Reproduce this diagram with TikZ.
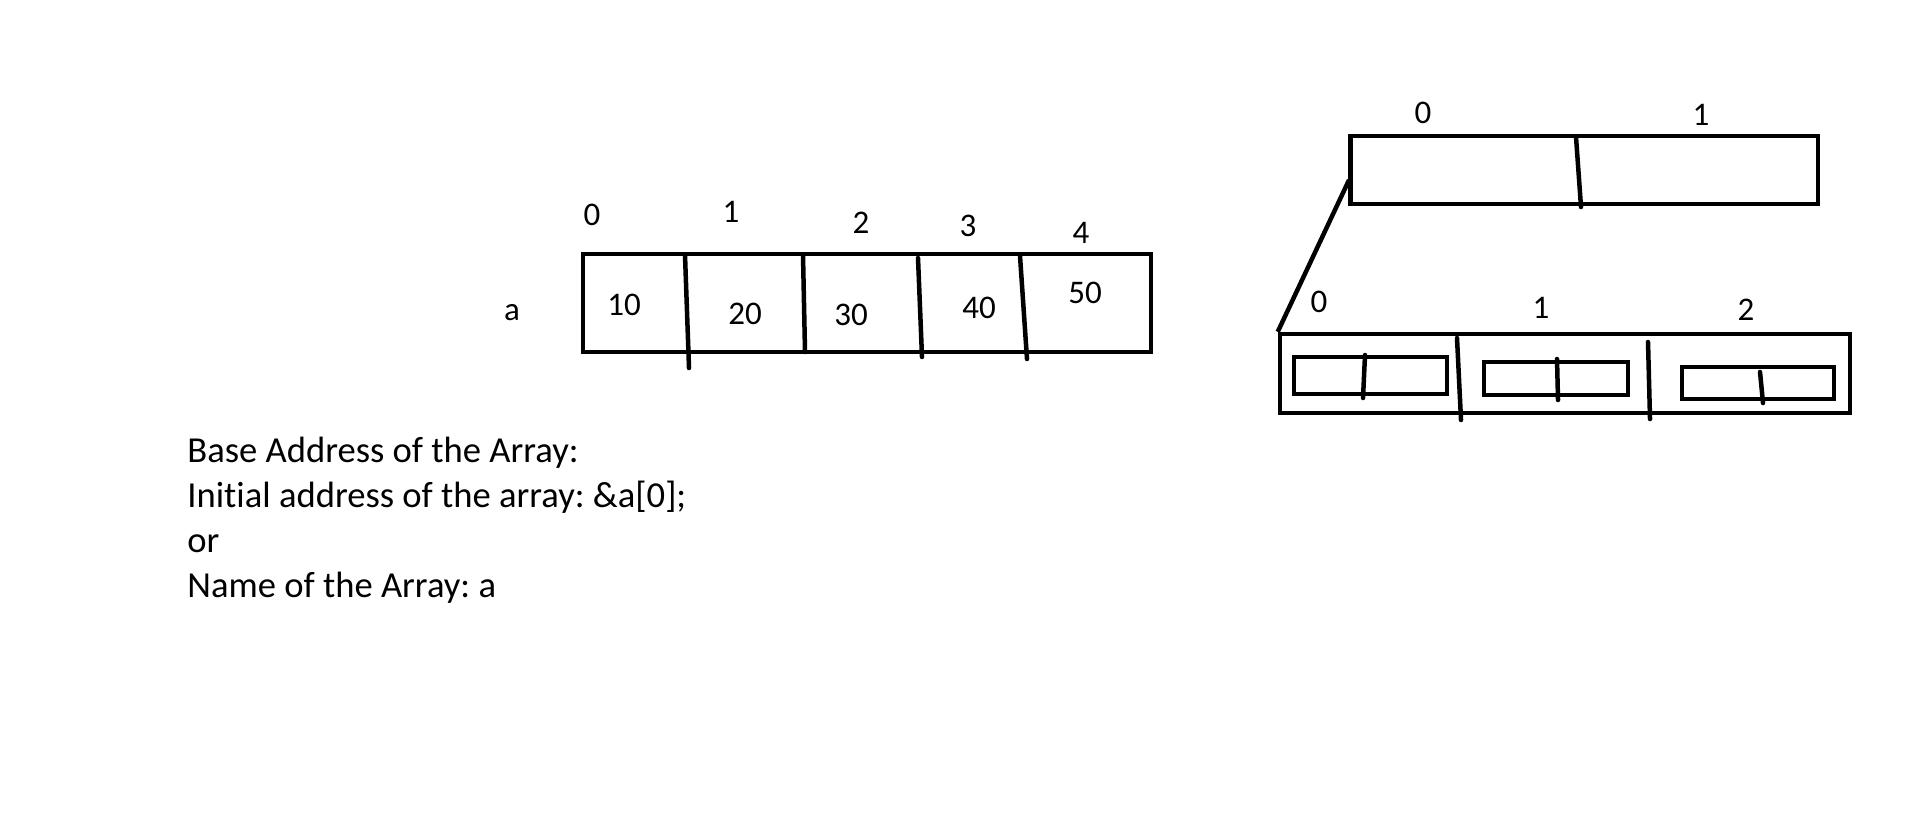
\documentclass[tikz,border=0pt]{standalone}
\usepackage{fontspec}
\setmainfont[Ligatures=NoCommon]{Carlito}
\usepackage{tikz}
\usetikzlibrary{positioning}
\frenchspacing

\begin{document}
\begin{tikzpicture}[x=0.5pt,y=-0.5pt,font=\fontsize{16.5}{23}\selectfont,
  box/.style={draw,line width=2.25pt,inner sep=0pt,rectangle},
  bar/.style={line width=2.25pt,line cap=round},
  lbl/.style={inner sep=0pt},
  txt/.style={inner sep=0pt,anchor=base west,font=\fontsize{18.3}{22.5}\selectfont}]
\useasboundingbox[fill=white] (0,0) rectangle (1914,837);
% one-dimensional array a
\node[box,minimum width=284pt,minimum height=49pt] (arr) at (867,303) {};
\node[lbl] (name) at (512,313) {a};
\node[lbl] (i0) at (592,215) {0};
\node[lbl] (i1) at (731,212) {1};
\node[lbl] (i2) at (861,223) {2};
\node[lbl] (i3) at (968,226) {3};
\node[lbl] (i4) at (1081,233) {4};
\node[lbl] (v0) at (624,305) {10};
\node[lbl] (v1) at (745,314) {20};
\node[lbl] (v2) at (851,315) {30};
\node[lbl] (v3) at (979,308) {40};
\node[lbl] (v4) at (1085,293) {50};
\draw[bar] (685,255) -- (689,368);
\draw[bar] (803,255) -- (805,352);
\draw[bar] (918,258) -- (922,357);
\draw[bar] (1020,256) -- (1027,359);
% base address notes
\node[txt] (t1) at (187,462) {Base Address of the Array:};
\node[txt] (t2) at (187,507) {Initial address of the array: \&a[0];};
\node[txt] (t3) at (187,552) {or};
\node[txt] (t4) at (187,597) {Name of the Array: a};
% outer array of two
\node[box,minimum width=233.75pt,minimum height=34pt] (top) at (1584,170) {};
\node[lbl] (j0) at (1423,113) {0};
\node[lbl] (j1) at (1701,115) {1};
\draw[bar] (1576,137) -- (1581,207);
% row 0 expanded
\node[box,minimum width=285pt,minimum height=39.5pt] (sub) at (1565,373.5) {};
\node[lbl] (k0) at (1319,302) {0};
\node[lbl] (k1) at (1541,308) {1};
\node[lbl] (k2) at (1746,310) {2};
\draw[bar] (1457,338) -- (1461,420);
\draw[bar] (1648,342) -- (1650,419);
\node[box,minimum width=76.5pt,minimum height=18.5pt] (in0) at (1370.5,375.5) {};
\node[box,minimum width=72pt,minimum height=16.5pt] (in1) at (1556,378.5) {};
\node[box,minimum width=76pt,minimum height=16pt] (in2) at (1758,383) {};
\draw[bar] (1365,355) -- (1363,398);
\draw[bar] (1557,359) -- (1558,400);
\draw[bar] (1760,372) -- (1763,403);
\coordinate (link) at (1349,180);
\draw[bar,line cap=butt] (link) -- (sub.north west);
\end{tikzpicture}
\end{document}
